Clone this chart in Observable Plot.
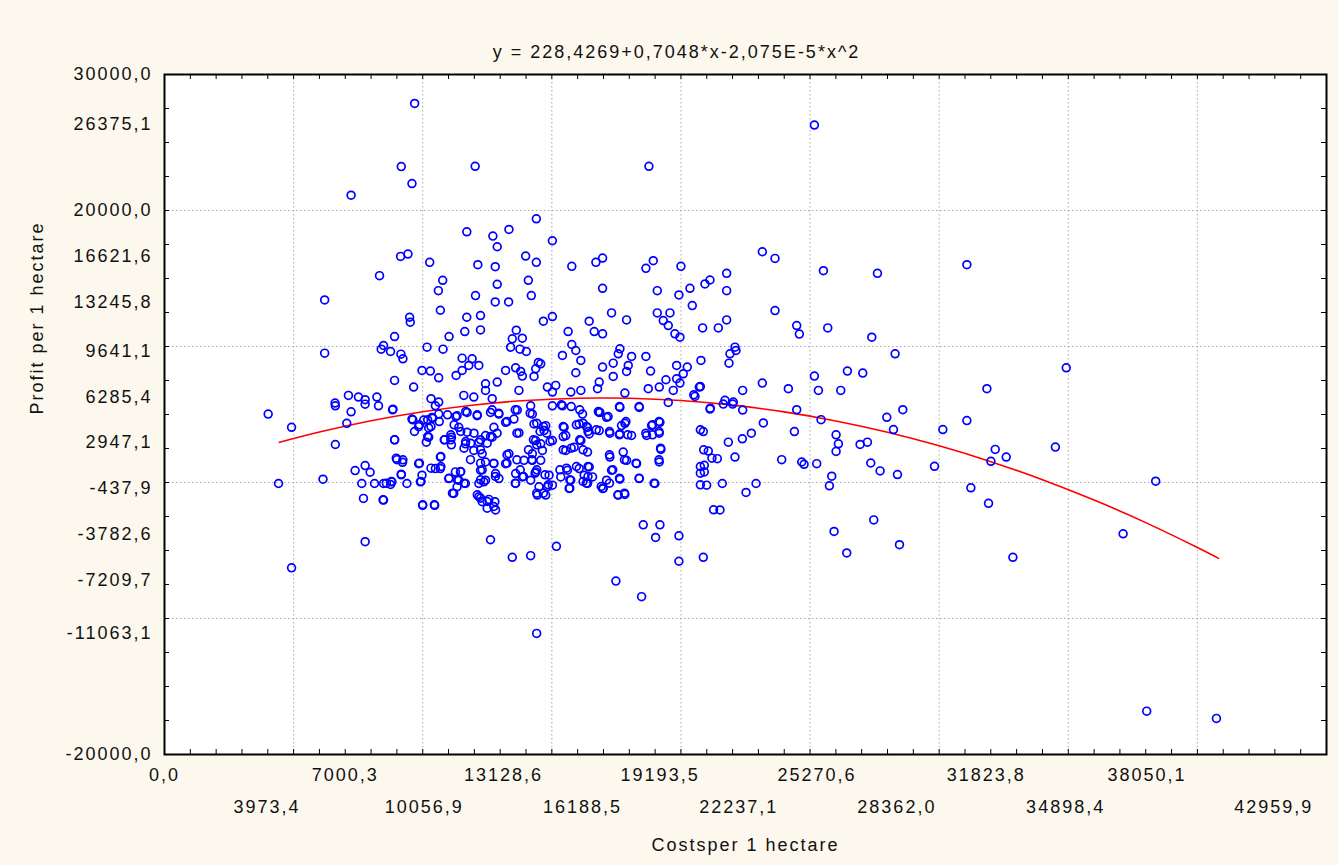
<!DOCTYPE html>
<html>
<head>
<meta charset="utf-8">
<script src="https://cdn.jsdelivr.net/npm/d3@7"></script>
<script src="https://cdn.jsdelivr.net/npm/@observablehq/plot@0.6"></script>
<style>
  html, body { margin: 0; padding: 0; background: #fdf8ee; }
  #chart svg { display: block; }
</style>
</head>
<body>
<div id="chart"></div>
<script>
// ---- Data ----
const chartTitle = "y = 228,4269+0,7048*x-2,075E-5*x^2";
const xTitle = "Costsper 1 hectare";
const yTitle = "Profit per 1 hectare";

// Observations: [cost per 1 hectare, profit per 1 hectare]
const observations = [
  [9687,27873],[9169,23227],[12031,23252],[9583,21980],[7226,21125],[14400,19389],[11707,18435],[13339,18606],
  [12717,18117],[12885,17335],[15022,17775],[9143,16626],[9428,16797],[10270,16186],[13986,16650],[14400,16186],
  [12134,16015],[12808,15868],[15773,15893],[16706,16186],[16965,16504],[8327,15208],[10774,14866],[10606,14107],
  [12885,14572],[14090,14866],[16965,14279],[6203,13423],[12044,13741],[14206,13741],[12808,13276],[13326,13276],
  [10684,12665],[9492,12151],[9518,11785],[11707,12151],[12238,12274],[15022,12201],[14672,11858],[16447,11858],
  [8910,10733],[11020,10733],[11629,11100],[12238,11222],[13623,11198],[13468,10561],[13857,10611],[15631,11100],
  [16641,11100],[16965,10929],[6203,9511],[8482,10074],[8392,9804],[8754,9633],[9156,9438],[9233,9096],
  [10166,9951],[10787,9804],[13403,9951],[13766,9804],[14012,9633],[15773,10147],[15929,9706],[16123,8973],
  [15410,9340],[11526,9144],[11914,9096],[11785,8606],[12173,8606],[11526,8240],[11293,7873],[14478,8826],
  [14569,8729],[14375,8363],[14310,7799],[13209,8240],[13598,8436],[13792,8167],[13857,7823],[9972,8240],
  [10295,8191],[10619,7701],[8910,7506],[9648,7017],[15929,8069],[16965,8484],[16835,7384],[16770,6895],
  [12432,7261],[12885,7384],[12432,6772],[13727,6772],[14828,7017],[15152,7139],[15022,6650],[15734,6650],
  [16123,6772],[7123,6405],[7511,6283],[7770,6087],[8223,6283],[6605,5843],[11591,6405],[11979,6283],
  [10321,6161],[10619,5916],[12691,6161],
  [4015,5030],[4921,4058],[6617,5638],[7226,5200],[7058,4350],[7770,5760],[8288,5638],[8832,5346],
  [6617,2795],[8910,3135],[4416,-73],[6138,243],[7382,876],[7770,1241],[7964,754],[7641,-73],
  [8133,-73],[8482,-73],[8806,49],[8754,-146],[7705,-1168],[8482,-1290],[9000,1679],[9220,1484],
  [9169,608],[9389,-73],[9842,1387],[9972,535],[9907,49],[9997,-1679],[10464,-1679],[7770,-4355],[4921,-6277],
  [9583,4666],[10036,4593],[10360,4787],[10619,5030],[10490,5638],[9842,4106],[10231,4009],[10231,3329],
  [10140,2965],[10852,3135],[11111,3329],[11111,2770],[11331,4909],[11396,4058],[11720,5152],[11720,3694],
  [12108,4909],[11655,2843],[11979,2357],[11849,1679],[12303,2114],[12173,2965],[12432,3451],[12691,3329],
  [12756,4058],[12626,5152],[12950,5030],[13209,4423],[13533,4666],[13662,5322],[13727,3645],[13339,2114],
  [13209,1387],[12432,1508],[12756,1387],[12238,900],[12173,-73],[12367,49],[12432,170],[11266,778],
  [11461,778],[11396,170],[11008,292],[11655,-73],[11331,-316],[11202,-803],[10490,1022],[10684,1022],
  [10684,1873],[12173,-1046],[12303,-1411],[12562,-1241],[12795,-1411],[12821,-2019],[12626,-4209],[13468,-5500],
  [14180,-5378],[15177,-4696],[14413,-11095],[12821,657],[12950,292],[13598,657],[13857,413],[13598,-73],
  [13921,1630],[14245,1630],[14245,2114],[14569,1630],[14375,778],[14180,170],[14504,-316],[14439,-924],
  [14763,-924],[14828,-316],[15022,-195],[14893,535],[14375,3086],[14569,2843],[14634,2357],[14698,3816],
  [14763,4180],[14245,5030],[14310,4301],[14180,5638],[15022,3086],[15022,5638],[15410,5638],[15475,4058],
  [15540,3451],[15540,2357],[15864,2600],[16123,3086],[16188,5030],[16058,4301],[16382,4058],[16447,3572],
  [16382,2235],[15605,900],[15346,413],[15734,170],[15670,-438],[16058,1022],[16252,535],[16447,1144],
  [16576,413],[16382,-73],[16835,3816],[16835,5152],[16965,-438],
  [18760,23252],[25168,26284],[18928,16308],[18643,15746],[20000,15893],[19083,14107],[19922,13790],[20349,14279],
  [20930,14597],[21124,14890],[21770,15379],[21770,14107],[20439,13007],[17313,12469],[17894,11955],[19083,12469],
  [19574,12469],[19315,11907],[19509,11540],[19767,10929],[19961,10684],[20840,11369],[21447,11369],[21770,11955],
  [23152,16968],[23643,16479],[25517,15574],[27610,15379],[31073,16015],[23643,12641],[24483,11540],[24586,10910],
  [25685,11369],[27390,10684],[28294,9462],[17636,9829],[17571,9462],[17377,8777],[18088,9267],[17959,8606],
  [17894,8167],[17377,7799],[18643,9267],[18824,8191],[19832,8606],[20245,8484],[20090,7995],[19832,7628],
  [19419,7555],[19161,7017],[18734,6895],[19961,7310],[19703,6772],[20775,8973],[20711,7017],[20543,6332],
  [21899,9462],[22093,9951],[22132,9706],[21861,8777],[17829,6577],[22390,6772],[23152,7310],[24159,6895],
  [25168,7823],[25323,6772],[26189,6772],[26447,8191],[27041,8045],[31848,6895],[21705,6039],[22028,5916],
  [17636,5523],[18385,5523],[16860,5158],[17119,4793],[17829,4355],[17700,4185],[18863,4185],[19186,4428],
  [17248,3625],[17636,3577],[18088,3455],[18669,3455],[19160,3625],[19509,5888],[21124,5401],[21641,5766],
  [22003,5766],[22390,5328],[20866,3747],[23191,4379],[24393,3747],[24483,5353],[25426,4623],[26008,3504],
  [26098,2847],[26008,2287],[26938,2798],[27222,2968],[27972,4793],[28592,5353],[28230,3893],[30142,3893],
  [31073,4550],[32171,2433],[32597,1873],[32003,1557],[29819,1192],[31227,-389],[31912,-1533],[32855,-5499],
  [19225,2433],[19160,1508],[18282,1387],[17765,2238],[17894,1630],[17248,1873],[17313,900],[17119,170],
  [17636,243],[16990,-438],[17571,-925],[17829,-876],[18385,292],[18992,-73],[21059,2311],[21408,1752],
  [22093,1873],[21835,2968],[22378,3212],[22727,3625],[20905,1265],[20905,778],[20995,-195],[21602,-73],
  [22908,-73],[22520,-730],[21511,-2019],[23902,1679],[24677,1508],[24768,1338],[25258,1387],[25840,462],
  [25749,-243],[27351,1435],[27713,852],[28385,584],[27467,-2749],[25930,-3601],[26421,-5182],[28463,-4574],
  [18540,-3114],[19186,-3114],[19018,-4039],[19922,-3917],[19922,-5791],[20866,-5499],[17481,-7250],[18476,-8394],
  [34501,2603],[38385,97],[37124,-3771],[38037,-16812],[40738,-17347],[34922,8433],
  [8848,5390],[9616,4606],[9872,4239],[10192,4606],[10384,4729],[10320,4116],[10640,4484],[10960,4974],
  [11280,4851],[11216,4239],[11664,5219],[12112,4974],[12688,5341],[12944,5096],[13264,4484],[13584,5341],
  [14160,5096],[14416,4361],[14672,4116],[15370,5709],[15750,5586],[16080,5341],[16210,4361],[16340,4116],
  [16800,5219],[17180,4851],[17620,5586],[17870,4484],[18380,5586],[18900,4239],[19150,4484],[19150,3749],
  [8912,3136],[9680,3749],[10192,3381],[10832,3136],[11088,3504],[11472,3749],[11664,3014],[11984,3626],
  [12240,3136],[12624,3381],[12880,3626],[13648,3626],[14288,3136],[14544,3749],[14800,3626],[14928,3014],
  [15440,4116],[15440,3381],[15950,4239],[16080,3136],[16400,3749],[16720,3871],[17232,3749],[17620,3504],
  [17940,3504],[18640,3626],[18900,3504],[19210,2524],[10704,1911],[11088,3136],[11600,2524],[11856,2891],
  [12240,2401],[12496,2891],[14096,2401],[14416,2769],[15440,2401],[15750,2524],[16210,2401],[17232,2034],
  [8976,1789],[9232,1666],[9872,1421],[10320,1054],[10704,1176],[11472,809],[12240,1421],[12304,931],
  [12752,1421],[13264,2034],[13264,1421],[13648,1666],[13776,931],[14224,1666],[14416,931],[14736,564],
  [15312,931],[15568,1054],[15952,1176],[16400,1176],[16400,441],[17360,931],[17812,1666],[18260,1421],
  [8592,-49],[8784,74],[9168,564],[9936,74],[11024,319],[11344,196],[11600,-49],[12240,196],
  [12816,441],[13584,-49],[13904,441],[14352,686],[14864,-172],[15696,196],[16208,74],[16912,-294],
  [17232,-49],[17620,319],[18380,319],[18960,-49],[20752,-172],[8464,-1274],[10000,-1641],[10448,-1641],
  [11152,-784],[12112,-906],[12240,-1151],[12496,-1396],[12752,-1764],[12496,-1886],[14416,-784],[14672,-784],
  [15696,-416],[16336,-49],[17556,-906],[17812,-784],[21264,-2009],[19150,1666],[20752,7056],[20496,6444],
  [21136,5464],[20752,3871],[20880,2401],[21200,1789],[20752,1176],[20752,686]
];

// Fitted curve (as drawn in the picture)
const fitCost =   [4450, 6000, 8000, 10000, 12000, 14000, 16000, 17000, 18000, 20000, 22000, 24000, 26000, 28000, 30000, 32000, 34000, 36000, 38000, 40000, 40820];
const fitProfit = [2954, 3710, 4539, 5201, 5698, 6029, 6193, 6213, 6192, 6024, 5691, 5192, 4526, 3695, 2697, 1534, 205, -1291, -2952, -4780, -5577];

// Axis tick labels (as printed)
const xLabelsRow1 = [0, 7000.3, 13128.6, 19193.5, 25270.6, 31823.8, 38050.1];
const xLabelsRow2 = [3973.4, 10056.9, 16188.5, 22237.1, 28362.0, 34898.4, 42959.9];
const yLabels = [30000, 26375.1, 20000, 16621.6, 13245.8, 9641.1, 6285.4, 2947.1, -437.9, -3782.6, -7209.7, -11063.1, -20000];
const xGrid = [5000, 10000, 15000, 20000, 25000, 30000, 35000, 40000];
const yGrid = [-10000, 0, 10000, 20000];
const xDomain = [0, 45000];
const yDomain = [-20000, 30000];

// ---- Build ----
const points = observations.map(([c, p]) => ({cost: c, profit: p}));
const fit = fitCost.map((c, i) => ({cost: c, profit: fitProfit[i]}));
const fmt = d => d.toFixed(1).replace(".", ",");

const W = 1338, H = 865, mT = 74, mL = 164, mR = 12, mB = 111;
const innerW = W - mL - mR, innerH = H - mT - mB;
const xMinor = d3.range(xDomain[0], xDomain[1] + 1, 1000);
const yMinor = d3.range(yDomain[0], yDomain[1] + 1, 2500);
const tickLen = 5;

const chart = Plot.plot({
  width: W, height: H,
  marginTop: mT, marginLeft: mL, marginRight: mR, marginBottom: mB,
  x: {domain: xDomain, label: null},
  y: {domain: yDomain, label: null},
  style: {
    background: "#fdf8ee",
    fontFamily: "'Liberation Sans', Arial, sans-serif",
    fontSize: "18px",
    letterSpacing: "2px",
    color: "#111111"
  },
  marks: [
    Plot.frame({fill: "#ffffff", stroke: "none"}),
    Plot.ruleX(xGrid, {x: d => d, stroke: "#a8a8a8", strokeDasharray: "1.5,2.5"}),
    Plot.ruleY(yGrid, {y: d => d, stroke: "#a8a8a8", strokeDasharray: "1.5,2.5"}),
    Plot.tickX(xMinor, {x: d => d, insetTop: innerH - tickLen, stroke: "#000"}),
    Plot.tickX(xMinor, {x: d => d, insetBottom: innerH - tickLen, stroke: "#000"}),
    Plot.tickY(yMinor, {y: d => d, insetRight: innerW - tickLen, stroke: "#000"}),
    Plot.tickY(yMinor, {y: d => d, insetLeft: innerW - tickLen, stroke: "#000"}),
    Plot.line(fit, {x: "cost", y: "profit", stroke: "#ff0000", strokeWidth: 1.6, curve: "natural"}),
    Plot.dot(points, {x: "cost", y: "profit", r: 3.9, stroke: "#0000ff", strokeWidth: 1.7, fill: "none"}),
    Plot.frame({stroke: "#000", strokeWidth: 2}),
    Plot.axisX(xLabelsRow1, {tickSize: 0, tickPadding: 14, tickFormat: fmt, label: null}),
    Plot.axisX(xLabelsRow2, {tickSize: 0, tickPadding: 46, tickFormat: fmt, label: null}),
    Plot.axisY(yLabels, {tickSize: 0, tickPadding: 12, tickFormat: fmt, label: null}),
    Plot.text([chartTitle], {text: d => d, frameAnchor: "top", dy: -29, dx: -69}),
    Plot.text([xTitle], {text: d => d, frameAnchor: "bottom", dy: 96}),
    Plot.text([yTitle], {text: d => d, frameAnchor: "left", rotate: -90, dx: -127})
  ]
});
document.getElementById("chart").appendChild(chart);
</script>
</body>
</html>
